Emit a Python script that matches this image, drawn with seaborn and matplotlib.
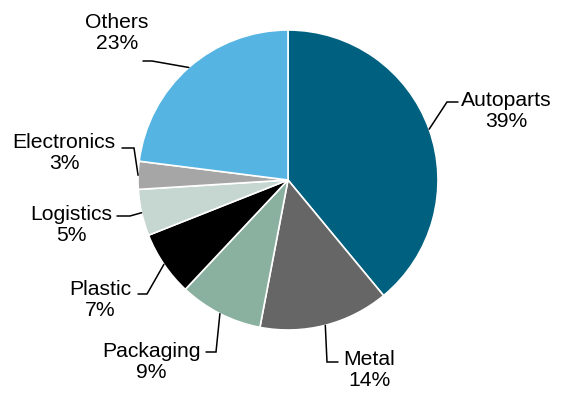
import numpy as np
import matplotlib
matplotlib.use("Agg")
import matplotlib.pyplot as plt
import seaborn as sns

# data
sectors = ['Autoparts', 'Metal', 'Packaging', 'Plastic', 'Logistics', 'Electronics', 'Others']
shares = [39, 14, 9, 7, 5, 3, 23]
colors = ['#00607F', '#666666', '#8AB0A0', '#000000', '#C6D6D1', '#A6A6A6', '#56B4E3']

# label layout in pixels: text centre, elbow of leader, end of leader
text_px = [(506, 111), (369, 370), (151, 362), (100, 300), (71, 225), (64, 153), (117, 33)]
elbow_px = [(447, 102), (327, 362), (216, 352), (147, 294), (130, 216), (134, 148), (152, 61)]
end_px = [(458, 102), (338, 362), (206, 352), (138, 294), (117, 216), (122, 148), (143, 61)]

sns.set_theme(style='white')
plt.rcParams['font.family'] = ['Liberation Sans', 'DejaVu Sans']

W, H = 565, 394
cx, cy, R = 288, 180, 150

fig = plt.figure(figsize=(W / 100, H / 100), dpi=100)
ax = fig.add_axes([0, 0, 1, 1])

pal = sns.color_palette(colors)
wedges, _ = ax.pie(shares, colors=pal, startangle=90, counterclock=False,
                   radius=1, center=(0, 0),
                   wedgeprops=dict(edgecolor='white', linewidth=1.2))

ax.set_xlim(-cx / R, (W - cx) / R)
ax.set_ylim(-(H - cy) / R, cy / R)
ax.set_aspect('auto')
ax.axis('off')


def to_data(p):
    return ((p[0] - cx) / R, (cy - p[1]) / R)


for w, name, v, t, e, n in zip(wedges, sectors, shares, text_px, elbow_px, end_px):
    ang = np.deg2rad((w.theta1 + w.theta2) / 2)
    start = (np.cos(ang), np.sin(ang))
    ex, ey = to_data(e)
    nx, ny = to_data(n)
    ax.plot([start[0], ex, nx], [start[1], ey, ny], color='black', lw=1.1,
            solid_joinstyle='miter')
    tx, ty = to_data(t)
    ax.text(tx, ty, f'{name}\n{v}%', ha='center', va='center', fontsize=15.2,
            linespacing=1.12, color='black')

fig.savefig('out.png', dpi=100)
